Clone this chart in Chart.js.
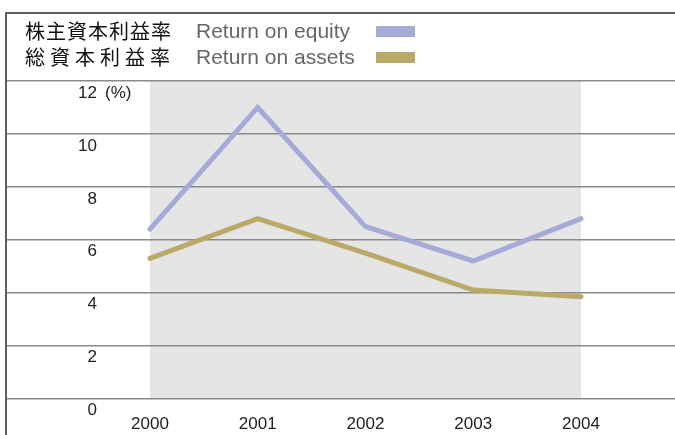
<!DOCTYPE html>
<html>
<head>
<meta charset="utf-8">
<script src="https://cdn.jsdelivr.net/npm/chart.js@4"></script>
<style>
  body { margin: 0; background: #fff; }
  #wrap { position: relative; width: 675px; height: 435px; overflow: hidden; }
  #frame { position: absolute; left: 5px; top: 12px; width: 670px; height: 423px;
           border-top: 2px solid #5e5e5e; border-left: 2px solid #5e5e5e; box-sizing: border-box; }
  #chart { position: absolute; left: 0; top: 0; }
  .row { position: absolute; left: 0; height: 26px; line-height: 26px; white-space: nowrap; }
  .ja { position: absolute; left: 25px; font-family: "Noto Sans CJK JP"; font-size: 20px; color: #111; }
  .en { position: absolute; left: 196px; font-family: "Liberation Sans"; font-size: 21px; color: #666; }
  .sw { position: absolute; left: 376px; top: 8px; width: 39px; height: 11px; }
</style>
</head>
<body>
<div id="wrap">
  <div id="frame"></div>
  <canvas id="chart" width="675" height="435"></canvas>
  <div id="legend"></div>
</div>
<script>
// --- DATA ---
const years = [2000, 2001, 2002, 2003, 2004];
const roe = [6.4, 11.0, 6.5, 5.2, 6.8];   // Return on equity (%)
const roa = [5.3, 6.8, 5.5, 4.1, 3.85];   // Return on assets (%)
const yTicks = [0, 2, 4, 6, 8, 10, 12];
const namesJa = ['株主資本利益率', '総資本利益率'];
const namesEn = ['Return on equity', 'Return on assets'];
const colors = ['#a6aad6', '#b9aa68'];

// legend (html)
const legend = document.getElementById('legend');
[18, 44].forEach((top, i) => {
    legend.innerHTML += `
    <div class="row" style="top:${top}px">
        <span class="ja" style="letter-spacing:${i === 0 ? 1 : 5}px">${namesJa[i]}</span>
        <span class="en">${namesEn[i]}</span>
        <span class="sw" style="background:${colors[i]}"></span>
    </div>`;
});

// gray band between first and last year
const bandPlugin = {
    id: 'band',
    beforeDraw(chart) {
        const { ctx, chartArea, scales } = chart;
        const x0 = scales.x.getPixelForValue(years[0]);
        const x1 = scales.x.getPixelForValue(years[years.length - 1]);
        ctx.save();
        ctx.fillStyle = '#e5e5e5';
        ctx.fillRect(x0, chartArea.top, x1 - x0, chartArea.bottom - chartArea.top);
        ctx.restore();
    }
};

// y labels sit under each gridline
const yLabelPlugin = {
    id: 'ylabels',
    afterDraw(chart) {
        const { ctx, scales } = chart;
        ctx.save();
        ctx.font = '17px "Liberation Sans"';
        ctx.fillStyle = '#222';
        ctx.textBaseline = 'middle';
        yTicks.forEach(v => {
            const y = scales.y.getPixelForValue(v) + 12;
            ctx.textAlign = 'right';
            ctx.fillText(String(v), 97, y);
            if (v === yTicks[yTicks.length - 1]) {
                ctx.textAlign = 'left';
                ctx.fillText('(%)', 105, y);
            }
        });
        ctx.restore();
    }
};

const pxPerYear = 107.75;
const chart = new Chart(document.getElementById('chart'), {
    type: 'line',
    data: {
        datasets: [
            { label: namesEn[0], data: years.map((x, i) => ({ x: x, y: roe[i] })), borderColor: colors[0] },
            { label: namesEn[1], data: years.map((x, i) => ({ x: x, y: roa[i] })), borderColor: colors[1] }
        ]
    },
    options: {
        responsive: false,
        animation: false,
        layout: { padding: { left: 7, top: 81, right: 0, bottom: -16 } },
        elements: {
            line: { borderWidth: 5, borderCapStyle: 'round', borderJoinStyle: 'miter', tension: 0 },
            point: { radius: 0 }
        },
        plugins: { legend: { display: false }, tooltip: { enabled: false } },
        scales: {
            x: {
                type: 'linear',
                min: years[0] - 143 / pxPerYear,
                max: years[years.length - 1] + 94 / pxPerYear,
                afterBuildTicks: s => { s.ticks = years.map(v => ({ value: v })); },
                grid: { display: false, drawTicks: false },
                border: { display: false },
                ticks: {
                    padding: 16,
                    color: '#222',
                    font: { family: 'Liberation Sans', size: 17 },
                    callback: v => String(v)
                }
            },
            y: {
                min: 0,
                max: 12,
                afterBuildTicks: s => { s.ticks = yTicks.map(v => ({ value: v })); },
                grid: { color: '#8a8a8a', lineWidth: 1.5, drawTicks: false },
                border: { display: false },
                ticks: { display: false }
            }
        }
    },
    plugins: [bandPlugin, yLabelPlugin]
});
</script>
</body>
</html>
